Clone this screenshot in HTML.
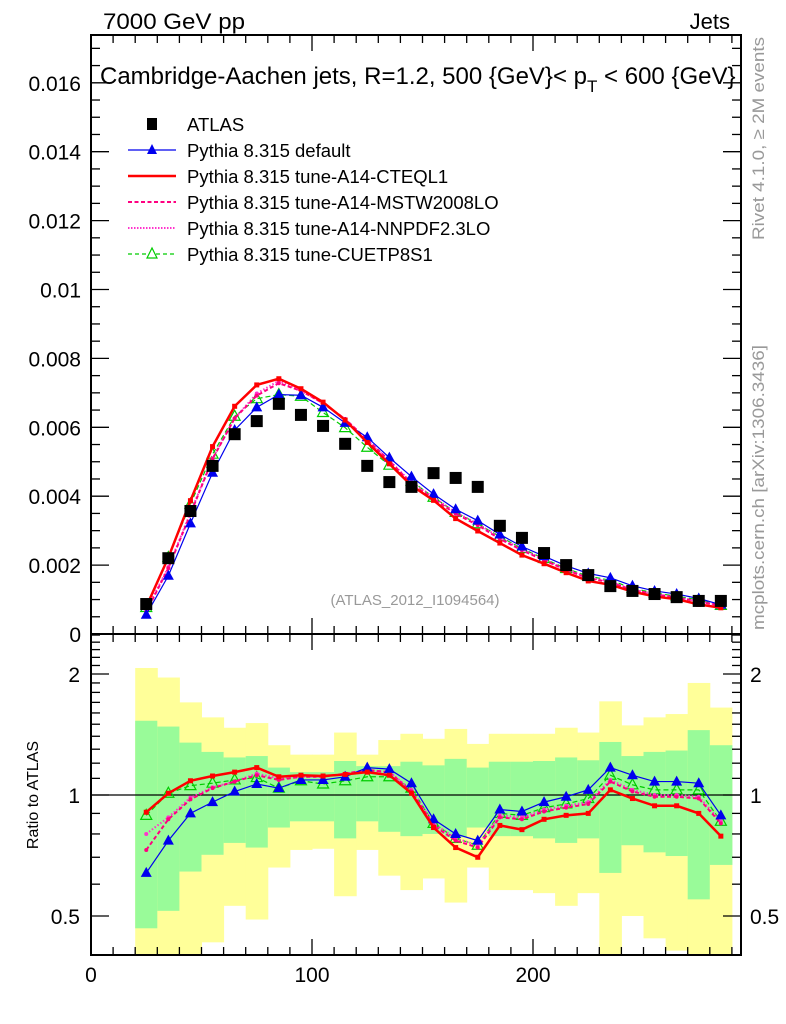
<!DOCTYPE html>
<html><head><meta charset="utf-8"><style>
body{margin:0;background:#fff;}
svg{display:block;font-family:"Liberation Sans",Arial,sans-serif;}
</style></head><body>
<svg id="c" width="786" height="1024" viewBox="0 0 786 1024"></svg>
<script>
const binCenters=[25,35,45,55,65,75,85,95,105,115,125,135,145,155,165,175,185,195,205,215,225,235,245,255,265,275,285];
const atlasVals=[0.00087,0.0022,0.00357,0.00488,0.0058,0.00618,0.00668,0.00636,0.00604,0.00552,0.00488,0.00441,0.00427,0.00467,0.00453,0.00427,0.00314,0.00279,0.00235,0.0020,0.00171,0.00139,0.00125,0.00116,0.00107,0.00096,0.00096];
const defaultVals=[0.00056,0.00169,0.00321,0.00468,0.00592,0.00658,0.00695,0.00693,0.00658,0.00613,0.00571,0.00512,0.00457,0.00406,0.00362,0.00329,0.00289,0.00254,0.00226,0.00198,0.00176,0.00163,0.0014,0.00125,0.00116,0.00103,0.00085];
const cteqVals=[0.00079,0.00222,0.00387,0.00544,0.00661,0.00723,0.00741,0.00712,0.00673,0.00621,0.00556,0.00494,0.00431,0.00388,0.00335,0.00299,0.00264,0.00229,0.00204,0.00178,0.00154,0.00143,0.00123,0.00109,0.00101,0.00086,0.00076];
const mstwVals=[0.00064,0.00191,0.00348,0.00508,0.00626,0.00692,0.00728,0.00706,0.0067,0.00624,0.00564,0.00503,0.00436,0.00392,0.00349,0.00316,0.00276,0.00243,0.00214,0.00186,0.00162,0.0015,0.00128,0.00115,0.00106,0.00094,0.00082];
const nnpdfVals=[0.0007,0.00194,0.00352,0.0051,0.00626,0.00698,0.00735,0.00706,0.0067,0.00624,0.00561,0.00503,0.0044,0.00397,0.00353,0.0032,0.00279,0.00246,0.00216,0.00188,0.00164,0.00152,0.00129,0.00116,0.00107,0.00095,0.00083];
const cuetpVals=[0.00077,0.00222,0.00377,0.00522,0.00632,0.00683,0.00695,0.0069,0.00643,0.00599,0.00542,0.0049,0.00444,0.00397,0.00353,0.0032,0.00283,0.00248,0.00219,0.0019,0.00168,0.00156,0.00133,0.00119,0.0011,0.00099,0.00083];
const defaultRatio=[0.64,0.77,0.90,0.96,1.02,1.065,1.04,1.09,1.09,1.11,1.17,1.16,1.07,0.87,0.80,0.77,0.92,0.91,0.96,0.99,1.03,1.17,1.12,1.08,1.08,1.07,0.89];
const cteqRatio=[0.906,1.01,1.085,1.115,1.14,1.17,1.11,1.12,1.115,1.125,1.14,1.12,1.01,0.83,0.74,0.70,0.84,0.82,0.87,0.89,0.90,1.03,0.98,0.94,0.94,0.90,0.79];
const mstwRatio=[0.73,0.87,0.975,1.04,1.08,1.12,1.09,1.11,1.11,1.13,1.155,1.14,1.02,0.84,0.77,0.74,0.88,0.87,0.91,0.93,0.95,1.08,1.02,0.99,0.99,0.98,0.85];
const nnpdfRatio=[0.80,0.88,0.985,1.045,1.08,1.13,1.10,1.11,1.11,1.13,1.15,1.14,1.03,0.85,0.78,0.75,0.89,0.88,0.92,0.94,0.96,1.09,1.03,1.0,1.0,0.99,0.86];
const cuetpRatio=[0.89,1.01,1.055,1.07,1.09,1.105,1.04,1.085,1.065,1.085,1.11,1.11,1.04,0.85,0.78,0.75,0.90,0.89,0.93,0.95,0.98,1.12,1.06,1.03,1.03,1.03,0.86];
const bandInnerHi=[1.53,1.48,1.35,1.28,1.24,1.25,1.17,1.14,1.14,1.215,1.18,1.18,1.21,1.185,1.23,1.17,1.21,1.21,1.215,1.24,1.22,1.355,1.25,1.28,1.29,1.45,1.33];
const bandInnerLo=[0.466,0.515,0.645,0.71,0.76,0.74,0.83,0.86,0.86,0.78,0.86,0.81,0.79,0.80,0.785,0.83,0.79,0.79,0.78,0.76,0.78,0.64,0.75,0.72,0.705,0.55,0.67];
const bandOuterHi=[2.07,1.96,1.70,1.56,1.47,1.51,1.33,1.26,1.26,1.43,1.26,1.37,1.42,1.38,1.46,1.34,1.42,1.42,1.42,1.47,1.43,1.71,1.49,1.56,1.59,1.90,1.65];
const bandOuterLo=[0.35,0.35,0.35,0.43,0.53,0.49,0.66,0.73,0.735,0.56,0.73,0.63,0.58,0.62,0.54,0.66,0.58,0.58,0.57,0.53,0.57,0.35,0.50,0.44,0.41,0.35,0.35];
const binWidth=10;
const mainTicks=[0,0.002,0.004,0.006,0.008,0.01,0.012,0.014,0.016];
const mainTickLabels=["0","0.002","0.004","0.006","0.008","0.01","0.012","0.014","0.016"];
const xTicks=[0,100,200];
const ratioTicks=[0.5,1,2];

const NS="http://www.w3.org/2000/svg";
const svg=document.getElementById('c');
const L=91,R=741,T=35,MB=634,RB=955;
const X=v=>L+v*2.21;
const Y=v=>MB-v/0.002*68.9;
const RY=r=>795-Math.log2(r)*121;
function el(tag,attrs,parent){const e=document.createElementNS(NS,tag);for(const k in attrs)e.setAttribute(k,attrs[k]);(parent||svg).appendChild(e);return e;}
function txt(s,attrs,parent){const e=el('text',attrs,parent);e.textContent=s;return e;}

const defs=el('defs',{});
const cp=el('clipPath',{id:'rc'},defs);el('rect',{x:L,y:MB,width:R-L,height:RB-MB},cp);
const cpm=el('clipPath',{id:'mc'},defs);el('rect',{x:L,y:T,width:R-L,height:MB-T},cpm);

const bands=el('g',{'clip-path':'url(#rc)'});


binCenters.forEach((c,i)=>{
  const x0=X(c-binWidth/2),x1=X(c+binWidth/2);
  const y1=el('rect',{x:x0,y:RY(bandOuterHi[i]),width:x1-x0+0.5,height:RY(bandOuterLo[i])-RY(bandOuterHi[i]),fill:'#ffff99'},bands);
  
  
  const g1=el('rect',{x:x0,y:RY(bandInnerHi[i]),width:x1-x0+0.5,height:RY(bandInnerLo[i])-RY(bandInnerHi[i]),fill:'#99fb99'},bands);
  
  
});
const one=el('line',{x1:L,x2:R,y1:RY(1),y2:RY(1),stroke:'#000','stroke-width':1.2});



const series=[
 {name:'cuetp8s1',main:cuetpVals,ratio:cuetpRatio,color:'#00cc00',w:1.2,dash:'5,3',marker:'tri-open'},
 {name:'nnpdf23lo',main:nnpdfVals,ratio:nnpdfRatio,color:'#ff33cc',w:2,dash:'1.5,2',marker:'dot'},
 {name:'mstw2008lo',main:mstwVals,ratio:mstwRatio,color:'#ff0080',w:2,dash:'4,2.5',marker:'dot'},
 {name:'default',main:defaultVals,ratio:defaultRatio,color:'#0000ee',w:1.2,dash:'',marker:'tri'},
 {name:'cteql1',main:cteqVals,ratio:cteqRatio,color:'#ff0000',w:2.5,dash:'',marker:'sq'}
];
function marker(g,type,x,y,color){
  let m;
  if(type==='tri'){m=el('polygon',{points:`${x},${y-6} ${x-5.5},${y+4} ${x+5.5},${y+4}`,fill:color},g);}
  else if(type==='tri-open'){m=el('polygon',{points:`${x},${y-6} ${x-5.5},${y+4} ${x+5.5},${y+4}`,fill:'none',stroke:color,'stroke-width':1.2},g);}
  else if(type==='sq'){m=el('rect',{x:x-2.5,y:y-2.5,width:5,height:5,fill:color},g);}
  else {m=el('circle',{cx:x,cy:y,r:2,fill:color},g);}
  
  
}
function drawSeries(s,vals,yf,clip,panel){
  const g=el('g',{'clip-path':clip});
  
  
  const pts=binCenters.map((c,i)=>X(c)+','+yf(vals[i])).join(' ');
  const pl=el('polyline',{points:pts,fill:'none',stroke:s.color,'stroke-width':s.w,'stroke-dasharray':s.dash},g);
  
  
  binCenters.forEach((c,i)=>marker(g,s.marker,X(c),yf(vals[i]),s.color));
}
series.forEach(s=>drawSeries(s,s.main,Y,'url(#mc)','main'));
series.forEach(s=>drawSeries(s,s.ratio,RY,'url(#rc)','ratio'));

const dg=el('g',{});


binCenters.forEach((c,i)=>{
  const r=el('rect',{x:X(c)-6,y:Y(atlasVals[i])-6,width:12,height:12,fill:'#000'},dg);
  
  
});

const f1=el('rect',{x:L,y:T,width:R-L,height:MB-T,fill:'none',stroke:'#000','stroke-width':2});


const f2=el('rect',{x:L,y:MB,width:R-L,height:RB-MB,fill:'none',stroke:'#000','stroke-width':2});



const tg=el('g',{stroke:'#000','stroke-width':1.3});


for(let v=0;v<=290;v+=10){
  const big=v%100===0, len=big?16:8, x=X(v);
  if(x>R)break;
  [[T,1],[MB,-1],[MB,1],[RB,-1]].forEach(([y0,d])=>el('line',{x1:x,x2:x,y1:y0,y2:y0+d*len},tg));
}
for(let v=0;v<=0.0172;v+=0.0005){
  const big=Math.abs(v/0.002-Math.round(v/0.002))<1e-6, len=big?18:9, y=Y(v);
  el('line',{x1:L,x2:L+len,y1:y,y2:y},tg);el('line',{x1:R,x2:R-len,y1:y,y2:y},tg);
}
const rticks=[0.4,0.5,0.6,0.7,0.8,0.9,1,1.1,1.2,1.3,1.4,1.5,1.6,1.7,1.8,1.9,2,2.1,2.2,2.3,2.4,2.5];
rticks.forEach(r=>{const y=RY(r);if(y<MB||y>RB)return;const big=ratioTicks.includes(r);const len=big?18:9;
  el('line',{x1:L,x2:L+len,y1:y,y2:y},tg);el('line',{x1:R,x2:R-len,y1:y,y2:y},tg);});

mainTicks.forEach((v,i)=>{const t=txt(mainTickLabels[i],{x:81,y:Y(v)+8,'font-size':21,'text-anchor':'end'});
  });
ratioTicks.forEach(r=>{const s=String(r);
  const a=txt(s,{x:80,y:RY(r)+8,'font-size':21,'text-anchor':'end'});
  const b=txt(s,{x:750,y:RY(r)+8,'font-size':21}); });
xTicks.forEach(v=>{const t=txt(String(v),{x:X(v),y:982,'font-size':21,'text-anchor':'middle'});
  });

function label(s,attrs,name){const t=txt(s,attrs);return t;}
label('7000 GeV pp',{x:103,y:29,'font-size':22,textLength:142,lengthAdjust:'spacingAndGlyphs'},'energy-label');
label('Jets',{x:730,y:29,'font-size':22,'text-anchor':'end'},'category-label');
const title=label('',{x:100,y:84,'font-size':24},'plot-title');
title.innerHTML='Cambridge-Aachen jets, R=1.2, 500 {GeV}&lt; p<tspan font-size="17" dy="8">T</tspan><tspan dy="-8"> &lt; 600 {GeV}</tspan>';
label('(ATLAS_2012_I1094564)',{x:415,y:605,'font-size':15,fill:'#999','text-anchor':'middle'},'analysis-id');
label('Ratio to ATLAS',{x:0,y:0,'font-size':16,'text-anchor':'middle',transform:'translate(38,795) rotate(-90)'},'ratio-axis-title');
label('Rivet 4.1.0, \u2265 2M events',{x:0,y:0,'font-size':17,fill:'#999','text-anchor':'end',textLength:203,lengthAdjust:'spacingAndGlyphs',transform:'translate(764,37) rotate(-90)'},'rivet-version');
label('mcplots.cern.ch [arXiv:1306.3436]',{x:0,y:0,'font-size':17,fill:'#999','text-anchor':'end',textLength:285,lengthAdjust:'spacingAndGlyphs',transform:'translate(764,345) rotate(-90)'},'mcplots-credit');

const legend=[
 ['ATLAS','#000','','data'],
 ['Pythia 8.315 default','#0000ee','','tri'],
 ['Pythia 8.315 tune-A14-CTEQL1','#ff0000','','none'],
 ['Pythia 8.315 tune-A14-MSTW2008LO','#ff0080','4,2.5','none'],
 ['Pythia 8.315 tune-A14-NNPDF2.3LO','#ff33cc','1.5,1.5','none'],
 ['Pythia 8.315 tune-CUETP8S1','#00cc00','4,3','tri-open']
];
legend.forEach((e,i)=>{
  const y=124+i*26;
  const g=el('g',{});
  
  
  if(e[3]==='data'){el('rect',{x:147,y:y-6,width:10,height:12,fill:'#000'},g);}
  else{
    el('line',{x1:128,x2:176,y1:y,y2:y,stroke:e[1],'stroke-width':i===2?2.5:(i===1||i===5?1.2:2),'stroke-dasharray':e[2]},g);
    if(e[3]==='tri')el('polygon',{points:`152,${y-6} 147,${y+4} 157,${y+4}`,fill:e[1]},g);
    if(e[3]==='tri-open')el('polygon',{points:`152,${y-6} 147,${y+4} 157,${y+4}`,fill:'#fff',stroke:e[1],'stroke-width':1.2},g);
  }
  txt(e[0],{x:187,y:y+7,'font-size':18.5},g);
});
</script>
</body></html>
